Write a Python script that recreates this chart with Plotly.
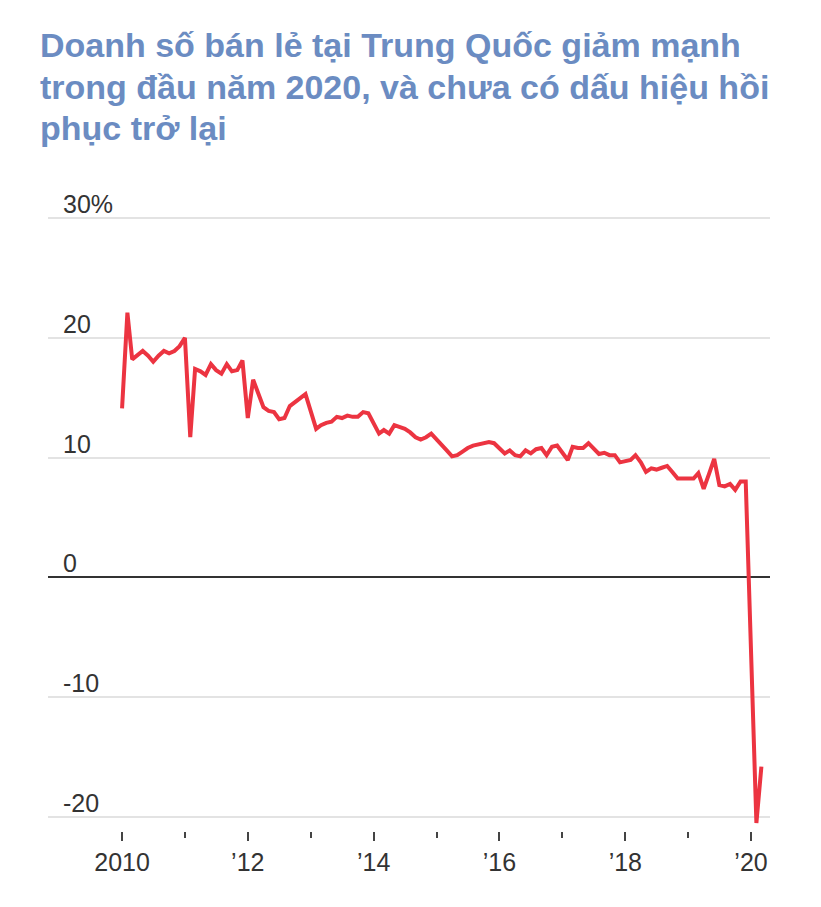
import plotly.graph_objects as go

# ---- data ----
months = [
    "2010-01", "2010-02", "2010-03", "2010-04", "2010-05", "2010-06", "2010-07", "2010-08", "2010-09", "2010-10", "2010-11", "2010-12",
    "2011-01", "2011-02", "2011-03", "2011-04", "2011-05", "2011-06", "2011-07", "2011-08", "2011-09", "2011-10", "2011-11", "2011-12",
    "2012-01", "2012-02", "2012-03", "2012-04", "2012-05", "2012-06", "2012-07", "2012-08", "2012-09", "2012-10", "2012-11", "2012-12",
    "2013-02", "2013-03", "2013-04", "2013-05", "2013-06", "2013-07", "2013-08", "2013-09", "2013-10", "2013-11", "2013-12",
    "2014-02", "2014-03", "2014-04", "2014-05", "2014-06", "2014-07", "2014-08", "2014-09", "2014-10", "2014-11", "2014-12",
    "2015-02", "2015-03", "2015-04", "2015-05", "2015-06", "2015-07", "2015-08", "2015-09", "2015-10", "2015-11", "2015-12",
    "2016-02", "2016-03", "2016-04", "2016-05", "2016-06", "2016-07", "2016-08", "2016-09", "2016-10", "2016-11", "2016-12",
    "2017-02", "2017-03", "2017-04", "2017-05", "2017-06", "2017-07", "2017-08", "2017-09", "2017-10", "2017-11", "2017-12",
    "2018-02", "2018-03", "2018-04", "2018-05", "2018-06", "2018-07", "2018-08", "2018-09", "2018-10", "2018-11", "2018-12",
    "2019-02", "2019-03", "2019-04", "2019-05", "2019-06", "2019-07", "2019-08", "2019-09", "2019-10", "2019-11", "2019-12",
    "2020-02", "2020-03",
]
retail_growth = [
    14.1, 22.1, 18.2, 18.6, 18.9, 18.5, 18.0, 18.5, 18.9, 18.7, 18.9, 19.3,
    20.0, 11.7, 17.4, 17.2, 16.9, 17.8, 17.3, 17.0, 17.8, 17.2, 17.3, 18.1,
    13.3, 16.5, 15.3, 14.2, 13.9, 13.8, 13.2, 13.3, 14.3, 14.6, 15.0, 15.3,
    12.4, 12.7, 12.9, 13.0, 13.4, 13.3, 13.5, 13.4, 13.4, 13.8, 13.7,
    12.0, 12.3, 12.0, 12.7, 12.55, 12.4, 12.1, 11.7, 11.5, 11.7, 12.0,
    11.1, 10.6, 10.1, 10.2, 10.5, 10.8, 11.0, 11.1, 11.2, 11.3, 11.2,
    10.35, 10.6, 10.2, 10.1, 10.6, 10.35, 10.7, 10.8, 10.2, 10.9, 11.0,
    9.8, 10.9, 10.8, 10.8, 11.2, 10.7, 10.3, 10.4, 10.2, 10.2, 9.6,
    9.8, 10.2, 9.6, 8.8, 9.1, 9.0, 9.15, 9.3, 8.8, 8.25, 8.25,
    8.25, 8.7, 7.4, 8.6, 9.9, 7.7, 7.6, 7.8, 7.3, 8.0, 8.0,
    -20.5, -15.8,
]

y_ticks = [30, 20, 10, 0, -10, -20]
y_labels = ["30%", "20", "10", "0", "-10", "-20"]

x_major = ["2010-01-01", "2012-01-01", "2014-01-01", "2016-01-01", "2018-01-01", "2020-01-01"]
x_labels = ["2010", "\u201912", "\u201914", "\u201916", "\u201918", "\u201920"]
x_minor = ["2011-01-01", "2013-01-01", "2015-01-01", "2017-01-01", "2019-01-01"]

title_lines = [
    "Doanh số bán lẻ tại Trung Quốc giảm mạnh",
    "trong đầu năm 2020, và chưa có dấu hiệu hồi",
    "phục trở lại",
]

TICK_FONT = "Liberation Sans Narrow, Liberation Sans, Arial, sans-serif"

# page has an 8px body margin; layout numbers are in figure pixels
ML, MR, MT, MB = 40, 59, 172, 84
W, H = 821, 907
plot_w = W - ML - MR
plot_h = H - MT - MB

fig = go.Figure()
fig.add_trace(go.Scatter(
    x=[m + "-01" for m in months],
    y=retail_growth,
    mode="lines",
    line=dict(color="#ec3441", width=4),
    hoverinfo="skip",
))

fig.update_layout(
    width=W, height=H,
    margin=dict(l=ML, r=MR, t=MT, b=MB),
    paper_bgcolor="white", plot_bgcolor="white",
    showlegend=False,
    xaxis=dict(
        type="date",
        range=["2008-10-28", "2020-04-20"],
        tickvals=x_major, ticktext=x_labels,
        ticks="outside", ticklen=9, tickwidth=1.5, tickcolor="#444",
        showgrid=False, zeroline=False, showline=False,
        tickfont=dict(family=TICK_FONT, size=25, color="#333"),
        minor=dict(tickvals=x_minor, ticks="outside", ticklen=6, tickwidth=1.5,
                   tickcolor="#444", showgrid=False),
        fixedrange=True,
    ),
    yaxis=dict(
        range=[-21.17, 33.17],
        tickvals=y_ticks, showticklabels=False,
        showgrid=True, gridcolor="#e3e3e3", gridwidth=2,
        zeroline=True, zerolinecolor="#333", zerolinewidth=1.5,
        showline=False, ticks="",
        fixedrange=True,
    ),
)

for v, lab in zip(y_ticks, y_labels):
    fig.add_annotation(
        x=0, xref="paper", xanchor="left", xshift=13,
        y=v, yref="y", yanchor="bottom", yshift=-2,
        text=lab, showarrow=False,
        font=dict(family=TICK_FONT, size=25, color="#333"),
    )

title_y_px = [37, 79, 120]
for line, ty in zip(title_lines, title_y_px):
    fig.add_annotation(
        x=(30 - ML) / plot_w, xref="paper",
        y=(H - MB - ty) / plot_h, yref="paper",
        text="<b>" + line + "</b>", showarrow=False,
        xanchor="left", yanchor="middle",
        font=dict(family="Liberation Sans, Arial, sans-serif", size=34, color="#6b8cc2"),
    )

fig.write_html("out.html")
